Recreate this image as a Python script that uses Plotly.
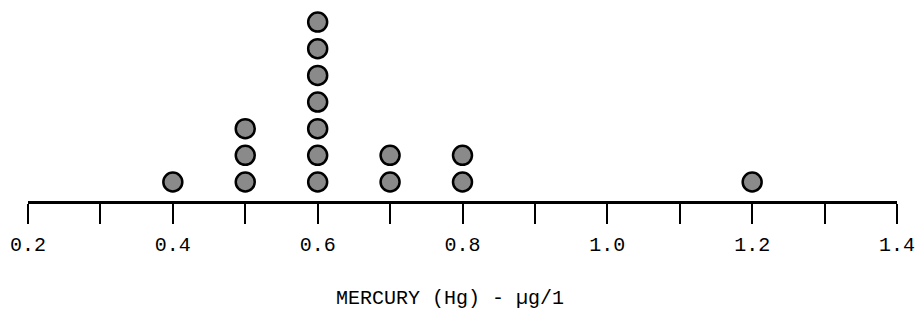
import plotly.graph_objects as go

# Data: mercury concentration values (ug/l) and the number of samples at each
mercury_values = [0.4, 0.5, 0.6, 0.7, 0.8, 1.2]
sample_counts = [1, 3, 7, 2, 2, 1]

tick_values = [0.2, 0.3, 0.4, 0.5, 0.6, 0.7, 0.8, 0.9, 1.0, 1.1, 1.2, 1.3, 1.4]
tick_labels = ["0.2", "", "0.4", "", "0.6", "", "0.8", "", "1.0", "", "1.2", "", "1.4"]

# Expand counts to stacked dots
xs, ys = [], []
for v, c in zip(mercury_values, sample_counts):
    for k in range(1, c + 1):
        xs.append(v)
        ys.append(k)

fig = go.Figure()
fig.add_trace(go.Scatter(
    x=xs, y=ys, mode="markers",
    marker=dict(size=19, color="#8a8a8a", line=dict(color="black", width=2.5)),
    hoverinfo="x+y", showlegend=False,
))

fig.update_layout(
    width=919, height=312,
    margin=dict(l=28, r=22, t=5, b=111, autoexpand=False),
    paper_bgcolor="white", plot_bgcolor="white",
    font=dict(family="Liberation Mono", color="black"),
    xaxis=dict(
        range=[0.2, 1.4],
        tickvals=tick_values, ticktext=tick_labels,
        ticks="outside", ticklen=20, tickwidth=2, tickcolor="black",
        ticklabelstandoff=3,
        showline=True, linecolor="black", linewidth=2.5,
        showgrid=False, zeroline=False, automargin=False,
        tickfont=dict(family="Liberation Mono", size=20, color="black"),
    ),
    yaxis=dict(
        range=[0.2875, 7.64], visible=False, showgrid=False, zeroline=False,
    ),
    annotations=[dict(
        text="MERCURY (Hg) - µg/1", x=0.4856, y=-0.495, xref="paper", yref="paper",
        xanchor="center", yanchor="middle", showarrow=False,
        font=dict(family="Liberation Mono", size=20, color="black"),
    )],
)

fig.write_html(
    "out.html",
    config={"displayModeBar": False},
    post_script="document.body.style.margin='0';document.body.style.overflow='hidden';",
)
